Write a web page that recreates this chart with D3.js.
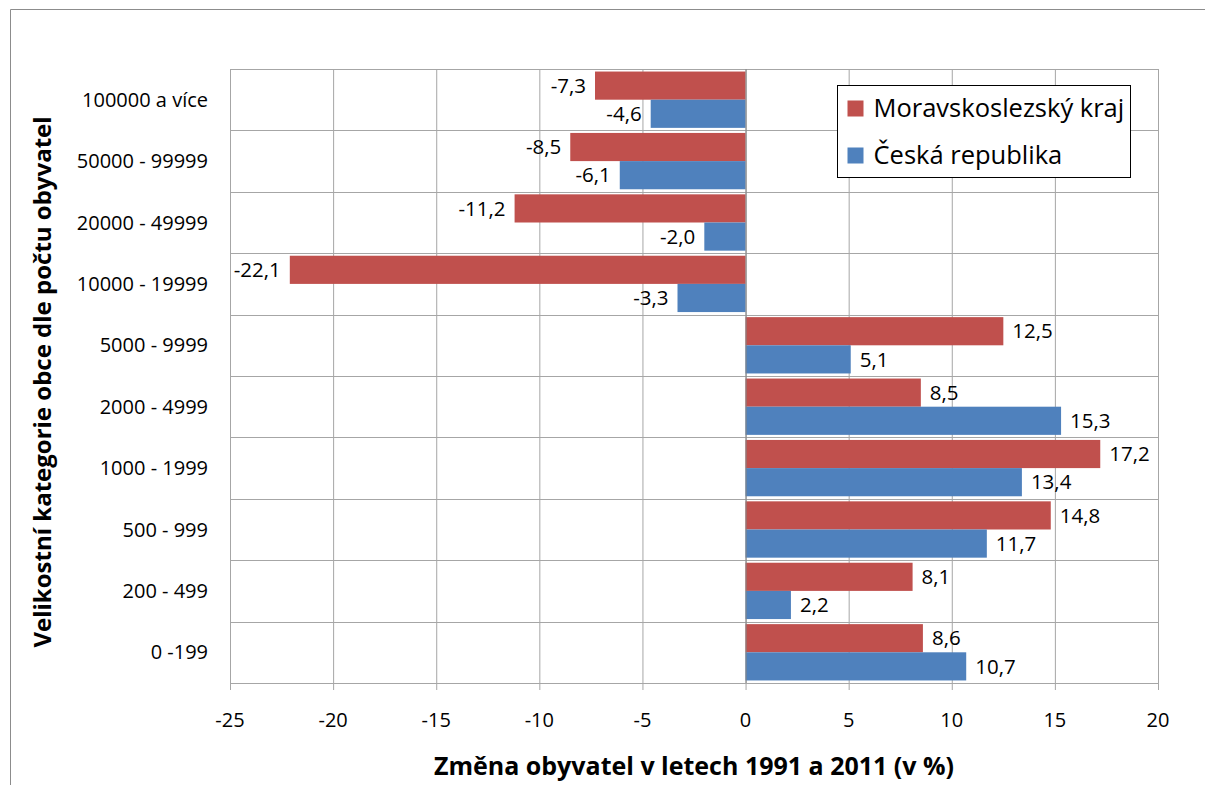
<!DOCTYPE html>
<html>
<head>
<meta charset="utf-8">
<script src="https://cdn.jsdelivr.net/npm/d3@7"></script>
<style>
  body { margin: 0; background: #fff; }
  svg { font-family: "Open Sans", Lato, sans-serif; }
</style>
</head>
<body>
<svg id="chart" width="1205" height="785"></svg>
<script>
// categories, top to bottom
const categories = ["100000 a více", "50000 - 99999", "20000 - 49999", "10000 - 19999",
  "5000 - 9999", "2000 - 4999", "1000 - 1999", "500 - 999", "200 - 499", "0 -199"]
const seriesNames = ["Moravskoslezský kraj", "Česká republika"]
const msk = [-7.3, -8.5, -11.2, -22.1, 12.5, 8.5, 17.2, 14.8, 8.1, 8.6]
const cr = [-4.6, -6.1, -2.0, -3.3, 5.1, 15.3, 13.4, 11.7, 2.2, 10.7]
const xTicks = [-25, -20, -15, -10, -5, 0, 5, 10, 15, 20]
const colors = ["#C0504D", "#4F81BD"]

const svg = d3.select("#chart")

// outer chart frame (runs off the right/bottom edge like the original)
svg.append("path")
  .attr("d", "M10.5,790 V9.5 H1210")
  .attr("fill", "none")
  .attr("stroke", "#8c8c8c")

const plot = {left: 230, top: 69, right: 1158, bottom: 683}

const x = d3.scaleLinear().domain([-25, 20]).range([plot.left, plot.right])
const y = d3.scaleBand().domain(categories).range([plot.top, plot.bottom])
const inner = d3.scaleBand().domain(seriesNames).range([0, y.bandwidth()]).paddingOuter(0.09)

const g = svg.append("g")

// vertical grid
g.selectAll("line.vgrid").data(xTicks).join("line")
  .attr("class", "vgrid")
  .attr("x1", d => x(d) + 0.5).attr("x2", d => x(d) + 0.5)
  .attr("y1", plot.top).attr("y2", plot.bottom + 7)
  .attr("stroke", "#a6a6a6")

// horizontal grid (category boundaries)
const bounds = categories.map(c => y(c)).concat([plot.bottom])
g.selectAll("line.hgrid").data(bounds).join("line")
  .attr("class", "hgrid")
  .attr("x1", plot.left).attr("x2", plot.right)
  .attr("y1", d => Math.round(d) + 0.5).attr("y2", d => Math.round(d) + 0.5)
  .attr("stroke", "#a6a6a6")

// bars
const rows = categories.map((c, i) => [
  {cat: c, s: seriesNames[0], v: msk[i], color: colors[0]},
  {cat: c, s: seriesNames[1], v: cr[i], color: colors[1]}
]).flat()

g.selectAll("rect.bar").data(rows).join("rect")
  .attr("class", "bar")
  .attr("x", d => x(Math.min(0, d.v)))
  .attr("width", d => Math.abs(x(d.v) - x(0)))
  .attr("y", d => y(d.cat) + inner(d.s))
  .attr("height", inner.bandwidth())
  .attr("fill", d => d.color)

// zero axis line
g.append("line")
  .attr("x1", x(0) + 0.5).attr("x2", x(0) + 0.5)
  .attr("y1", plot.top).attr("y2", plot.bottom)
  .attr("stroke", "#868686")

// data labels
const fmt = v => v.toFixed(1).replace(".", ",")
g.selectAll("text.lbl").data(rows).join("text")
  .attr("class", "lbl")
  .attr("x", d => d.v < 0 ? x(d.v) - 9 : x(d.v) + 9)
  .attr("y", d => y(d.cat) + inner(d.s) + inner.bandwidth() / 2)
  .attr("dy", "0.35em")
  .attr("text-anchor", d => d.v < 0 ? "end" : "start")
  .attr("font-size", 20.5)
  .attr("fill", "#000")
  .text(d => fmt(d.v))

// category labels
g.selectAll("text.cat").data(categories).join("text")
  .attr("class", "cat")
  .attr("x", 208)
  .attr("y", d => y(d) + y.bandwidth() / 2)
  .attr("dy", "0.35em")
  .attr("text-anchor", "end")
  .attr("font-size", 20)
  .text(d => d)

// x tick labels
g.selectAll("text.xt").data(xTicks).join("text")
  .attr("class", "xt")
  .attr("x", d => x(d))
  .attr("y", 720)
  .attr("dy", "0.35em")
  .attr("text-anchor", "middle")
  .attr("font-size", 20)
  .text(d => d)

// axis titles
svg.append("text")
  .attr("x", 694).attr("y", 766)
  .attr("dy", "0.35em")
  .attr("text-anchor", "middle")
  .attr("font-size", 25)
  .attr("font-weight", "bold")
  .text("Změna obyvatel v letech 1991 a 2011 (v %)")

svg.append("text")
  .attr("transform", "translate(43,382) rotate(-90)")
  .attr("dy", "0.35em")
  .attr("text-anchor", "middle")
  .attr("font-size", 24)
  .attr("font-weight", "bold")
  .text("Velikostní kategorie obce dle počtu obyvatel")

// legend
const lg = svg.append("g").attr("transform", "translate(837.5,85.5)")
lg.append("rect")
  .attr("width", 293).attr("height", 92)
  .attr("fill", "#fff").attr("stroke", "#000")
const items = lg.selectAll("g.item").data(seriesNames).join("g")
  .attr("class", "item")
  .attr("transform", (d, i) => `translate(10,${23 + i * 47})`)
items.append("rect")
  .attr("y", -8).attr("width", 16).attr("height", 16)
  .attr("fill", (d, i) => colors[i])
items.append("text")
  .attr("x", 26).attr("dy", "0.35em")
  .attr("font-size", 25.5)
  .text(d => d)
</script>
</body>
</html>
